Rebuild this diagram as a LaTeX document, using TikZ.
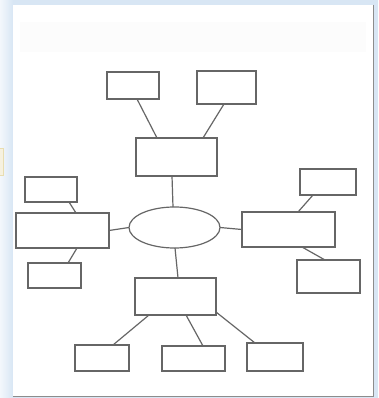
\documentclass[tikz,border=0pt]{standalone}
\usepackage{xcolor}
\colorlet{colLine}{black!60}
\definecolor{colFrame}{HTML}{D8E6F4}
\definecolor{colTab}{HTML}{E8DDB0}
\usepackage{tikz}
\usetikzlibrary{shapes.geometric}
\tikzset{
	leafbox/.style={draw=colLine, line width=1.2pt, fill=white, inner sep=0pt, outer sep=0pt},
	linkline/.style={draw=colLine, line width=1.2pt},
}

\begin{document}
\begin{tikzpicture}[
		x=1pt, y=-1pt,
		hub/.style={ellipse, draw=colLine, line width=1.2pt, inner sep=0pt, outer sep=0pt, minimum width=91pt, minimum height=41pt}
	]
	% Window frame
	\useasboundingbox (0,0) rectangle (378,398);
	\fill[colFrame] (0,0) rectangle (378,398);
	\fill[left color=white!70!colFrame, right color=colFrame] (0,0) rectangle (13,398);
	\draw[colTab, fill=white!60!colTab] (-2,148) rectangle (3,175);
	\fill[white] (13,5) rectangle (373,396);
	\fill[black!1] (20,22) rectangle (366,52);
	\draw[black!45, line width=1pt] (373,5) -- (373,396) -- (13,396);

	% Centre
	\node[hub] (hub) at (174.5,227.5) {};

	% Upper branch
	\node[leafbox, minimum width=81pt, minimum height=38pt] (top) at (176.5,157) {};
	\node[leafbox, minimum width=52pt, minimum height=27pt] (tl) at (133,85.5) {};
	\node[leafbox, minimum width=59pt, minimum height=33pt] (tr) at (226.5,87.5) {};

	% Left branch
	\node[leafbox, minimum width=93pt, minimum height=35pt] (left) at (62.5,230.5) {};
	\node[leafbox, minimum width=52pt, minimum height=25pt] (lt) at (51,189.5) {};
	\node[leafbox, minimum width=53pt, minimum height=25pt] (lb) at (54.5,275.5) {};

	% Right branch
	\node[leafbox, minimum width=93pt, minimum height=35pt] (right) at (288.5,229.5) {};
	\node[leafbox, minimum width=56pt, minimum height=26pt] (rt) at (328,182) {};
	\node[leafbox, minimum width=63pt, minimum height=33pt] (rb) at (328.5,276.5) {};

	% Lower branch
	\node[leafbox, minimum width=81pt, minimum height=37pt] (bot) at (175.5,296.5) {};
	\node[leafbox, minimum width=54pt, minimum height=26pt] (b1) at (102,358) {};
	\node[leafbox, minimum width=63pt, minimum height=25pt] (b2) at (193.5,358.5) {};
	\node[leafbox, minimum width=56pt, minimum height=28pt] (b3) at (275,357) {};

	% Links
	\draw[linkline] ([xshift=4pt]tl.south) -- ([xshift=-19.5pt]top.north);
	\draw[linkline] ([xshift=-2.5pt]tr.south) -- ([xshift=26.5pt]top.north);
	\draw[linkline] ([xshift=-4.5pt]top.south) -- ([xshift=-1.5pt]hub.north);
	\draw[linkline] ([xshift=18pt]lt.south) -- ([xshift=13.5pt]left.north);
	\draw[linkline] ([xshift=14.5pt]left.south) -- ([xshift=13.5pt]lb.north);
	\draw[linkline] (left.east) -- (hub.west);
	\draw[linkline] (hub.east) -- (right.west);
	\draw[linkline] ([xshift=-15pt]rt.south) -- ([xshift=9.5pt]right.north);
	\draw[linkline] ([xshift=13.5pt]right.south) -- ([xshift=-3.5pt]rb.north);
	\draw[linkline] ([xshift=0.5pt]hub.south) -- ([xshift=2.5pt]bot.north);
	\draw[linkline] ([xshift=-26.5pt]bot.south) -- ([xshift=11pt]b1.north);
	\draw[linkline] ([xshift=10.5pt]bot.south) -- ([xshift=9.5pt]b2.north);
	\draw[linkline] ([yshift=3pt]bot.south east) -- ([xshift=-20pt]b3.north);
\end{tikzpicture}
\end{document}
